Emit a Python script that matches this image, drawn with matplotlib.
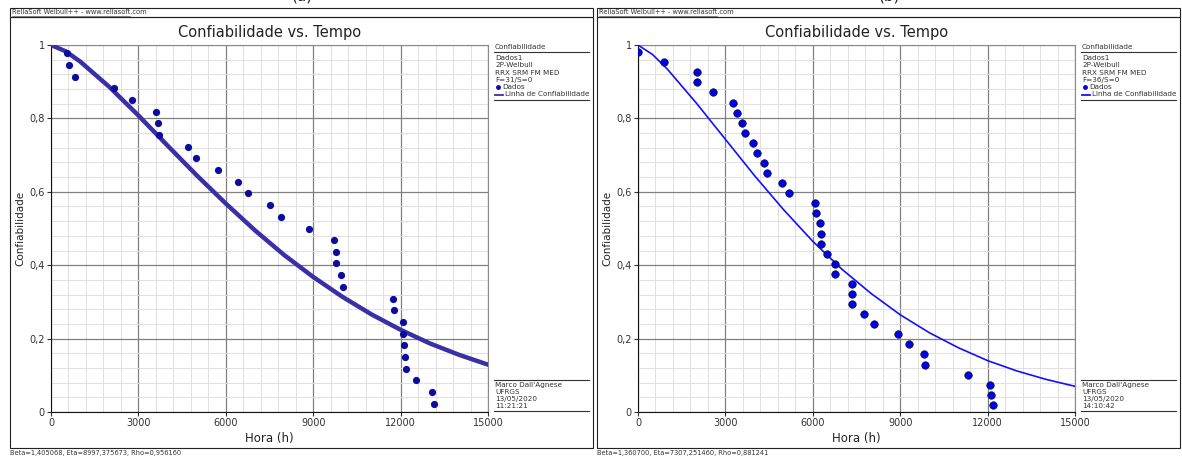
import numpy as np
import matplotlib
matplotlib.use("Agg")
import matplotlib.pyplot as plt
from matplotlib.patches import Rectangle
from matplotlib.lines import Line2D

W, H = 1182, 457

# ---- dados (a) ----
t_a = [540, 620, 820, 2160, 2770, 3600, 3660, 3710, 4690, 4970, 5720,
       6410, 6770, 7500, 7880, 8870, 9700, 9790, 9790, 9960, 10030,
       11740, 11780, 12090, 12090, 12120, 12140, 12180, 12540, 13090, 13150]
r_a = [0.978, 0.946, 0.914, 0.882, 0.850, 0.818, 0.787, 0.755, 0.723, 0.691,
       0.659, 0.627, 0.596, 0.564, 0.532, 0.500, 0.468, 0.436, 0.405, 0.373,
       0.341, 0.309, 0.277, 0.245, 0.213, 0.182, 0.150, 0.118, 0.086, 0.054,
       0.022]
lt_a = [0, 500, 1000, 2000, 3000, 4000, 5000, 6000, 7000, 8000, 9000,
        10000, 11000, 12000, 13000, 14000, 15000]
lr_a = [1.0, 0.983, 0.955, 0.886, 0.808, 0.726, 0.645, 0.568, 0.495, 0.428,
        0.368, 0.314, 0.266, 0.224, 0.187, 0.156, 0.129]

# ---- dados (b) ----
t_b = [10, 890, 2015, 2015, 2580, 3270, 3390, 3570, 3670, 3960, 4090, 4320,
       4420, 4950, 5180, 6060, 6100, 6250, 6280, 6280, 6480, 6760, 6760,
       7355, 7355, 7355, 7760, 8110, 8910, 9310, 9830, 9850, 11340, 12080,
       12120, 12170]
r_b = [0.981, 0.953, 0.926, 0.898, 0.871, 0.843, 0.816, 0.788, 0.761, 0.734,
       0.706, 0.679, 0.651, 0.624, 0.596, 0.569, 0.541, 0.514, 0.486, 0.459,
       0.431, 0.404, 0.376, 0.349, 0.321, 0.294, 0.266, 0.239, 0.212, 0.184,
       0.157, 0.129, 0.102, 0.074, 0.047, 0.019]
lt_b = [0, 500, 1000, 2000, 3000, 4000, 5000, 6000, 7000, 8000, 9000,
        10000, 11000, 12000, 13000, 14000, 15000]
lr_b = [1.0, 0.974, 0.935, 0.842, 0.743, 0.644, 0.551, 0.465, 0.389, 0.323,
        0.265, 0.216, 0.175, 0.140, 0.112, 0.089, 0.070]

xticks = [0, 3000, 6000, 9000, 12000, 15000]
yticks = [0, 0.2, 0.4, 0.6, 0.8, 1.0]
ylabels = ["0", "0,2", "0,4", "0,6", "0,8", "1"]

fig = plt.figure(figsize=(W / 100, H / 100), dpi=100)


def fx(x):
    return x / W


def fy(y):
    return 1 - y / H


def hline(x0, x1, y, c="#333333", lw=0.8):
    fig.add_artist(Line2D([fx(x0), fx(x1)], [fy(y), fy(y)], color=c, lw=lw,
                          transform=fig.transFigure))


def ftext(x, y, s, **kw):
    kw.setdefault("fontsize", 5.2)
    kw.setdefault("color", "#333333")
    fig.text(fx(x), fy(y), s, va="center", ha=kw.pop("ha", "left"), **kw)


def painel(x0, tag, t, r, lt, lr, lcol, lw, mcol, medge, mew, ms,
           fstat, hora, status):
    # molduras
    fig.add_artist(Rectangle((fx(x0), fy(17)), fx(583), 9 / H, fill=False,
                             ec="#222222", lw=0.8, transform=fig.transFigure))
    fig.add_artist(Rectangle((fx(x0), fy(448)), fx(583), 431 / H, fill=False,
                             ec="#222222", lw=0.8, transform=fig.transFigure))
    ftext(x0 + 2, 12, "ReliaSoft Weibull++ - www.reliasoft.com", fontsize=4.8)
    hline(x0 + 2, x0 + 120, 16, lw=0.4)
    # rotulo (a)/(b) cortado no topo, como na figura original
    fig.text(fx(x0 + 292), fy(-4), tag, ha="center", va="center",
             fontsize=11, color="#222222")
    ftext(x0, 453, status, fontsize=4.8)

    ax = fig.add_axes([fx(x0 + 41), fy(412), fx(437), 367 / H])
    ax.set_xlim(0, 15000)
    ax.set_ylim(0, 1)
    ax.set_xticks(xticks)
    ax.set_xticklabels([str(v) for v in xticks])
    ax.set_yticks(yticks)
    ax.set_yticklabels(ylabels)
    ax.set_xticks(np.arange(0, 15001, 600), minor=True)
    ax.set_yticks(np.arange(0, 1.001, 0.04), minor=True)
    ax.grid(which="minor", color="#e0e0e0", lw=0.7)
    ax.grid(which="major", color="#808080", lw=0.9)
    ax.set_axisbelow(True)
    ax.tick_params(which="minor", length=0)
    ax.tick_params(which="major", length=3, labelsize=7, colors="#333333",
                   pad=1.5)
    for s in ["top", "right"]:
        ax.spines[s].set_color("#8a8a8a")
    for s in ["left", "bottom"]:
        ax.spines[s].set_color("#111111")
    ax.plot(lt, lr, color=lcol, lw=lw, solid_capstyle="round", zorder=3)
    ax.plot(t, r, "o", color=mcol, mec=medge, mew=mew, ms=ms, zorder=4)
    ax.set_title("Confiabilidade vs. Tempo", fontsize=10.5, color="#222222",
                 pad=6)
    ax.set_xlabel("Hora (h)", fontsize=8.5, color="#222222", labelpad=3)
    ax.set_ylabel("Confiabilidade", fontsize=7.5, color="#222222",
                  labelpad=3)

    # legenda / informacoes
    lx = x0 + 85 + 400
    ftext(lx, 47, "Confiabilidade")
    hline(lx - 1, lx + 94, 52)
    for i, s in enumerate(["Dados1", "2P-Weibull", "RRX SRM FM MED", fstat]):
        ftext(lx, 58 + 7.3 * i, s)
    fig.add_artist(Line2D([fx(lx + 3)], [fy(87)], marker="o", ms=2.5,
                          color=mcol, transform=fig.transFigure))
    ftext(lx + 7, 87, "Dados")
    fig.add_artist(Line2D([fx(lx), fx(lx + 8)], [fy(95), fy(95)], lw=1.3,
                          color=lcol, transform=fig.transFigure))
    ftext(lx + 10, 94.5, "Linha de Confiabilidade")
    hline(lx - 1, lx + 94, 100)

    hline(lx - 1, lx + 94, 380)
    for i, s in enumerate(["Marco Dall'Agnese", "UFRGS", "13/05/2020", hora]):
        ftext(lx, 384.5 + 7.2 * i, s)
    hline(lx - 1, lx + 94, 411)


painel(10, "(a)", t_a, r_a, lt_a, lr_a, "#3a30a6", 3.2, "#0c0c9c",
       "#0c0c9c", 0.0, 5.2, "F=31/S=0", "11:21:21",
       "Beta=1,405068, Eta=8997,375673, Rho=0,956160")
painel(597, "(b)", t_b, r_b, lt_b, lr_b, "#1010ff", 1.2, "#0000f0",
       "#111111", 0.5, 5.4, "F=36/S=0", "14:10:42",
       "Beta=1,360700, Eta=7307,251460, Rho=0,881241")

fig.savefig("out.png", dpi=100)
